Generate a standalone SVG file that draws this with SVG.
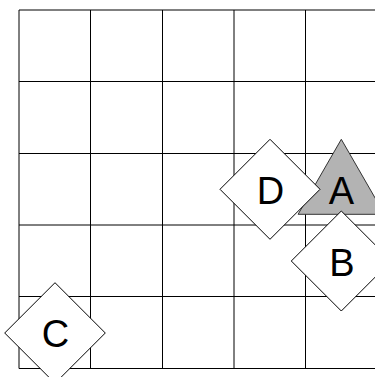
<svg xmlns="http://www.w3.org/2000/svg" width="375" height="377" viewBox="0 0 375 377">
<style>
.grid line{stroke:#000;stroke-width:1}
.shape{fill:#fff;stroke:#000;stroke-width:1}
.tri{fill:#b3b3b3;stroke:#333;stroke-width:1}
.lbl{font-family:"Liberation Sans",Arial,sans-serif;font-size:38px;fill:#000;text-anchor:middle}
</style>
<rect width="375" height="377" fill="#fff"/>
<g id="grid" class="grid">
<line x1="19" y1="10" x2="377" y2="10"/>
<line x1="19" y1="81.5" x2="377" y2="81.5"/>
<line x1="19" y1="153.5" x2="377" y2="153.5"/>
<line x1="19" y1="225" x2="377" y2="225"/>
<line x1="19" y1="296.5" x2="377" y2="296.5"/>
<line x1="19" y1="368.5" x2="377" y2="368.5"/>
<line x1="19" y1="10" x2="19" y2="368.5"/>
<line x1="90.5" y1="10" x2="90.5" y2="368.5"/>
<line x1="162.5" y1="10" x2="162.5" y2="368.5"/>
<line x1="234" y1="10" x2="234" y2="368.5"/>
<line x1="305.5" y1="10" x2="305.5" y2="368.5"/>
</g>
<g id="connectors"></g>
<g id="nodeA">
<polygon class="tri" points="341.3,139.3 384.5,214.3 298.1,214.3"/>
<text class="lbl" x="341.5" y="204">A</text>
</g>
<g id="nodeD">
<polygon class="shape" points="270,139.3 320,189.3 270,239.3 220,189.3"/>
<text class="lbl" x="270.5" y="204">D</text>
</g>
<g id="nodeB">
<polygon class="shape" points="341.3,211 391.3,261 341.3,311 291.3,261"/>
<text class="lbl" x="342" y="275.5">B</text>
</g>
<g id="nodeC">
<polygon class="shape" points="55,282.7 105.3,333 55,383.3 4.7,333"/>
<text class="lbl" x="55.5" y="346.5">C</text>
</g>
</svg>
